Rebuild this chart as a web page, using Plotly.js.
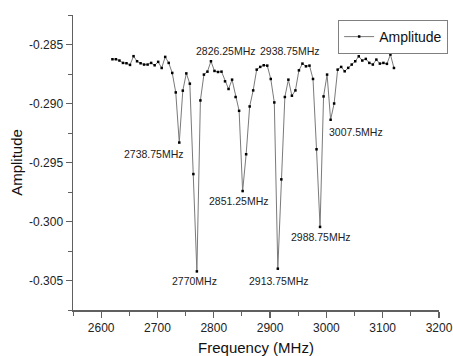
<!DOCTYPE html>
<html>
<head>
<meta charset="utf-8">
<script src="https://cdn.plot.ly/plotly-3.0.1.min.js"></script>
<style>html,body{margin:0;padding:0;background:#fff;}#chart{width:453px;height:356px;}</style>
</head>
<body>
<div id="chart"></div>
<script>
const frequency = [2620, 2626.25, 2632.5, 2638.75, 2645, 2651.25, 2657.5, 2663.75, 2670, 2676.25,
  2682.5, 2688.75, 2695, 2701.25, 2707.5, 2713.75, 2720, 2726.25, 2732.5, 2738.75,
  2745, 2751.25, 2757.5, 2763.75, 2770, 2776.25, 2782.5, 2788.75, 2795, 2801.25,
  2807.5, 2813.75, 2820, 2826.25, 2832.5, 2838.75, 2845, 2851.25, 2857.5, 2863.75,
  2870, 2876.25, 2882.5, 2888.75, 2895, 2901.25, 2907.5, 2913.75, 2920, 2926.25,
  2932.5, 2938.75, 2945, 2951.25, 2957.5, 2963.75, 2970, 2976.25, 2982.5, 2988.75,
  2995, 3001.25, 3007.5, 3013.75, 3020, 3026.25, 3032.5, 3038.75, 3045, 3051.25,
  3057.5, 3063.75, 3070, 3076.25, 3082.5, 3088.75, 3095, 3101.25, 3107.5, 3113.75, 3120];
const amplitude = [-0.28625, -0.28625, -0.28636, -0.28656, -0.28659, -0.28673, -0.28599, -0.28642, -0.28659, -0.28670,
  -0.28670, -0.28656, -0.28676, -0.28647, -0.28699, -0.28605, -0.28656, -0.28741, -0.28906, -0.29331,
  -0.28891, -0.28745, -0.28832, -0.29598, -0.30423, -0.28974, -0.28755, -0.28730, -0.28642, -0.28724,
  -0.28733, -0.28730, -0.28812, -0.28877, -0.28798, -0.28945, -0.29062, -0.29742, -0.29430, -0.29025,
  -0.28889, -0.28713, -0.28690, -0.28676, -0.28679, -0.28792, -0.28991, -0.30400, -0.29643, -0.28945,
  -0.28798, -0.28934, -0.28889, -0.28719, -0.28662, -0.28685, -0.28679, -0.28792, -0.29388, -0.30046,
  -0.28940, -0.28755, -0.29138, -0.29000, -0.28713, -0.28690, -0.28727, -0.28698, -0.28670, -0.28642,
  -0.28600, -0.28636, -0.28622, -0.28656, -0.28670, -0.28628, -0.28662, -0.28656, -0.28664, -0.28585, -0.28699];

const peakLabels = ['2738.75MHz', '2770MHz', '2826.25MHz', '2851.25MHz', '2913.75MHz', '2938.75MHz', '2988.75MHz', '3007.5MHz'];
const peakFreq = [2738.75, 2770, 2826.25, 2851.25, 2913.75, 2938.75, 2988.75, 3007.5];
const peakLabelX = [2693, 2766, 2821, 2845, 2915, 2936, 2991, 3052];
const peakLabelY = [-0.29428, -0.30506, -0.28551, -0.29828, -0.30500, -0.28551, -0.30131, -0.29238];

const yTickVals = [-0.305, -0.300, -0.295, -0.290, -0.285];
const yTickText = ['-0.305', '-0.300', '-0.295', '-0.290', '-0.285'];
const xTickVals = [2600, 2700, 2800, 2900, 3000, 3100, 3200];

const font = 'Arial, "Liberation Sans", sans-serif';
const axisColor = '#606060';

const trace = {
  x: frequency, y: amplitude, type: 'scatter', mode: 'lines+markers', name: 'Amplitude',
  line: {color: '#7a7a7a', width: 1},
  marker: {color: '#000', size: 2.5, symbol: 'square'}
};

const annotations = peakLabels.map((t, i) => ({
  x: peakLabelX[i], y: peakLabelY[i], xref: 'x', yref: 'y', text: t, showarrow: false,
  font: {family: font, size: 10.5, color: '#222'}, xanchor: 'center', yanchor: 'middle'
}));

const layout = {
  width: 453, height: 356,
  margin: {l: 73, r: 14, t: 15, b: 46, autoexpand: false},
  paper_bgcolor: '#fff', plot_bgcolor: '#fff',
  showlegend: true,
  legend: {x: 1.025, y: 0.983, xanchor: 'right', yanchor: 'top',
    bordercolor: '#808080', borderwidth: 1,
    bgcolor: '#fff', font: {family: font, size: 14, color: '#111'}, tracegroupgap: 0},
  xaxis: {
    range: [2550, 3200], tickmode: 'array', tickvals: xTickVals,
    showgrid: false, zeroline: false, showline: true, linecolor: axisColor, linewidth: 1.5,
    ticks: 'outside', ticklen: 6, tickwidth: 1.2, tickcolor: axisColor,
    tickfont: {family: font, size: 12, color: '#222'},
    minor: {tickmode: 'linear', tick0: 2550, dtick: 50, ticks: 'outside', ticklen: 4, tickwidth: 1, tickcolor: axisColor, showgrid: false},
    title: {text: 'Frequency (MHz)', font: {family: font, size: 15, color: '#111'}, standoff: 8},
    automargin: false
  },
  yaxis: {
    range: [-0.3075, -0.2825], tickmode: 'array', tickvals: yTickVals, ticktext: yTickText,
    showgrid: false, zeroline: false, showline: true, linecolor: axisColor, linewidth: 1.5,
    ticks: 'outside', ticklen: 6, tickwidth: 1.2, tickcolor: axisColor,
    tickfont: {family: font, size: 12, color: '#222'},
    minor: {tickmode: 'linear', tick0: -0.3075, dtick: 0.0025, ticks: 'outside', ticklen: 4, tickwidth: 1, tickcolor: axisColor, showgrid: false},
    title: {text: 'Amplitude', font: {family: font, size: 15, color: '#111'}, standoff: 3},
    automargin: false
  },
  annotations: annotations
};

Plotly.newPlot('chart', [trace], layout, {displayModeBar: false, staticPlot: true});
</script>
</body>
</html>
